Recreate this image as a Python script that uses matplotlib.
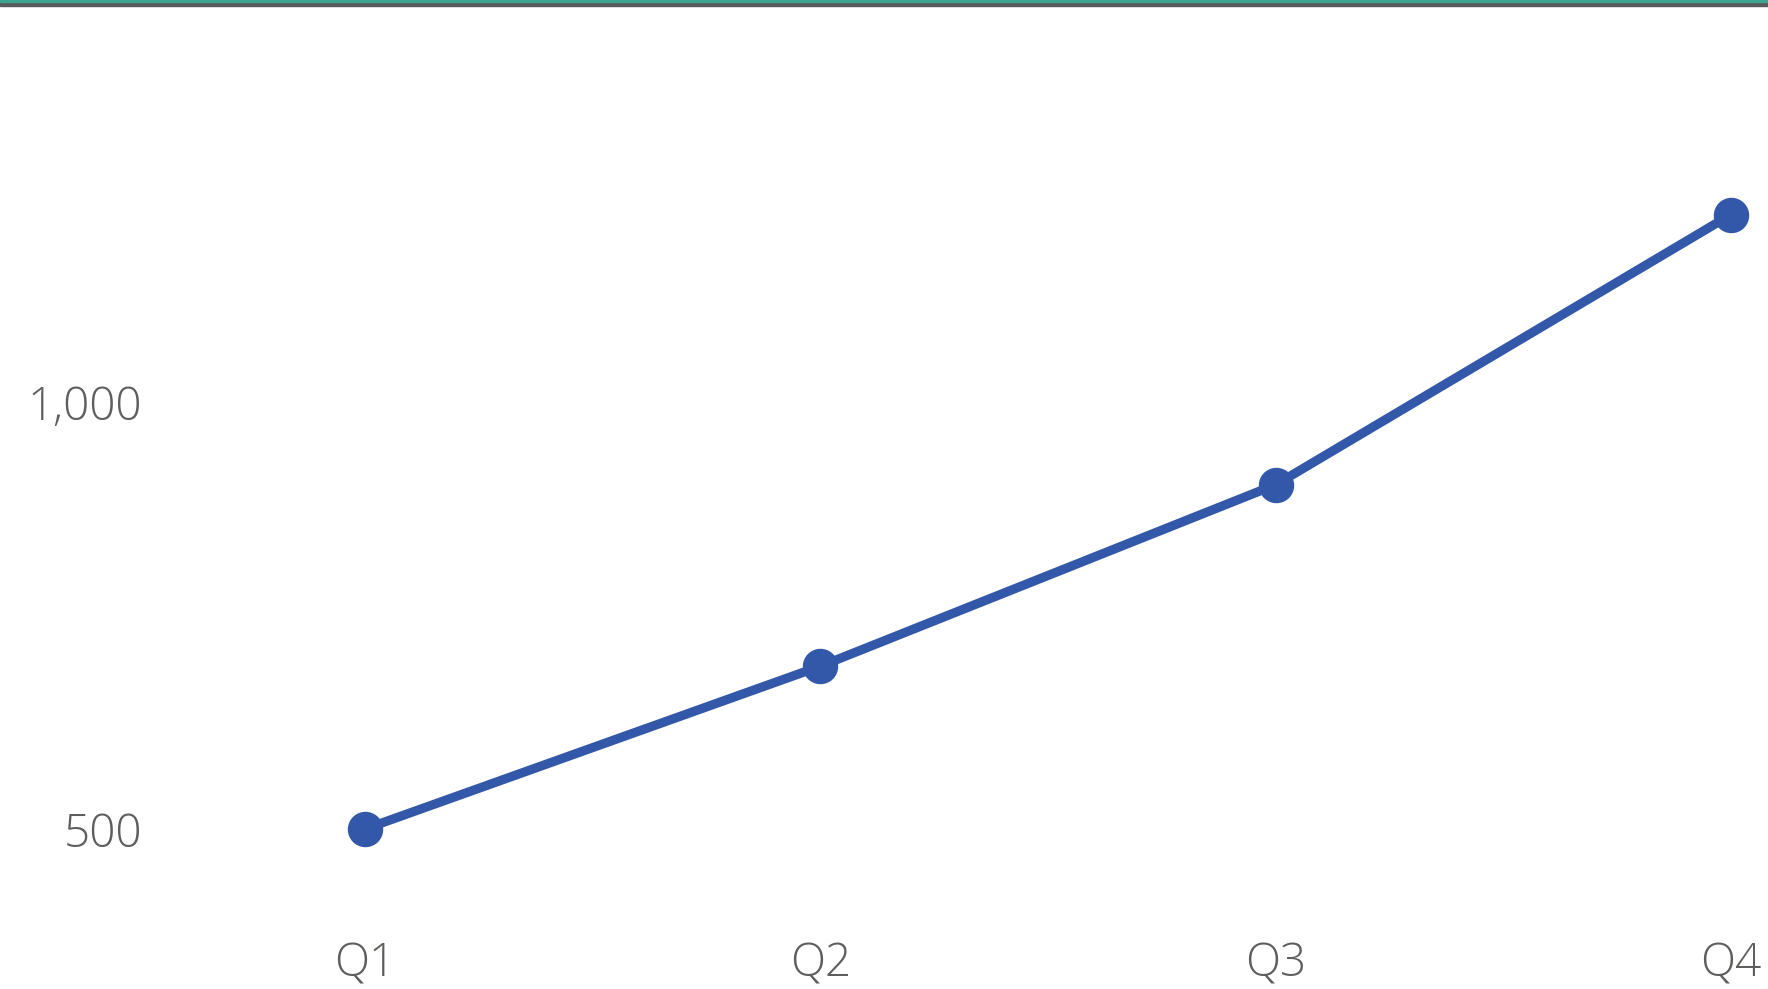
import matplotlib.pyplot as plt
import matplotlib.ticker as mticker
from matplotlib.patches import Rectangle

# quarterly values
quarters = ['Q1', 'Q2', 'Q3', 'Q4']
values = [500, 691, 904, 1221]

line_color = '#3358A9'
text_color = '#605E5C'

plt.rcParams['font.family'] = ['Open Sans', 'DejaVu Sans']

fig = plt.figure(figsize=(17.68, 9.89), dpi=100)
ax = fig.add_axes([160 / 1768, 89 / 989, 1 - 160 / 1768, 1 - 99 / 989])

x = list(range(len(quarters)))
ax.plot(x, values, color=line_color, lw=6.6, marker='o', ms=24.5,
        solid_capstyle='round', clip_on=False)

ax.set_xlim(-0.45, 3.081)
ax.set_ylim(416.7, 1461)
ax.set_xticks(x)
ax.set_xticklabels(quarters)
ax.yaxis.set_major_locator(mticker.MultipleLocator(500))
ax.yaxis.set_major_formatter(mticker.FuncFormatter(lambda v, p: f'{int(v):,}'))

ax.tick_params(axis='both', length=0, labelsize=33, labelcolor=text_color)
ax.tick_params(axis='y', pad=13)
ax.tick_params(axis='x', pad=30)
for lbl in ax.get_xticklabels() + ax.get_yticklabels():
    lbl.set_fontweight('light')
for s in ax.spines.values():
    s.set_visible(False)

# header strip at the top of the visual
fig.patches.append(Rectangle((0, 1 - 6 / 989), 1, 5 / 989, transform=fig.transFigure,
                             color='#5A5A5A', zorder=5))
fig.patches.append(Rectangle((0, 1 - 1.5 / 989), 1, 1.5 / 989, transform=fig.transFigure,
                             color='#3EA38F', zorder=6))

fig.savefig('out.png', dpi=100, facecolor='white')
